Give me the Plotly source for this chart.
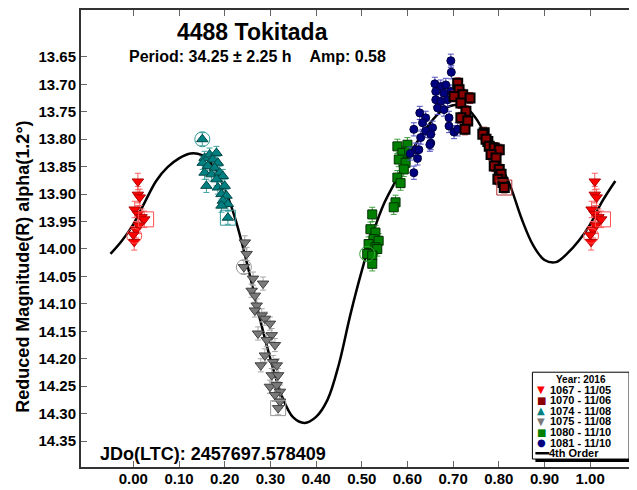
import plotly.graph_objects as go

# ---------------- data ----------------
ph_1067 = [0.010, 0.010, 0.014, 0.003, 0.010, 0.018, 0.024, 0.012, 0.006, 0.000, 0.002]
mag_1067 = [13.877, 13.901, 13.906, 13.928, 13.936, 13.942, 13.946, 13.957, 13.965, 13.974, 13.987]

ph_1070 = [0.710, 0.713, 0.721, 0.702, 0.737, 0.717, 0.728, 0.717, 0.732, 0.726, 0.768, 0.765, 0.776,
           0.772, 0.787, 0.779, 0.790, 0.801, 0.783, 0.794, 0.790, 0.801, 0.805, 0.798, 0.809, 0.812]
mag_1070 = [13.698, 13.710, 13.719, 13.722, 13.725, 13.734, 13.749, 13.761, 13.767, 13.782, 13.788, 13.791,
            13.804, 13.800, 13.816, 13.813, 13.816, 13.819, 13.828, 13.834, 13.849, 13.855, 13.864, 13.873,
            13.879, 13.888]

ph_1074 = [0.151, 0.156, 0.167, 0.182, 0.174, 0.152, 0.163, 0.185, 0.178, 0.156, 0.171, 0.189, 0.196,
           0.182, 0.160, 0.185, 0.200, 0.193, 0.204, 0.196, 0.207, 0.193, 0.207]
mag_1074 = [13.800, 13.834, 13.828, 13.825, 13.837, 13.843, 13.849, 13.843, 13.852, 13.861, 13.864, 13.861,
            13.867, 13.873, 13.885, 13.888, 13.885, 13.900, 13.903, 13.912, 13.918, 13.921, 13.943]

ph_1075 = [0.244, 0.248, 0.242, 0.262, 0.284, 0.259, 0.266, 0.270, 0.266, 0.281, 0.288, 0.299, 0.273, 0.303,
           0.292, 0.310, 0.288, 0.306, 0.314, 0.279, 0.303, 0.317, 0.299, 0.314, 0.321, 0.310, 0.321, 0.317]
mag_1075 = [13.988, 14.009, 14.033, 14.054, 14.063, 14.076, 14.085, 14.103, 14.112, 14.121, 14.127, 14.136,
            14.154, 14.157, 14.166, 14.175, 14.194, 14.206, 14.212, 14.212, 14.230, 14.230, 14.251, 14.248,
            14.260, 14.266, 14.278, 14.290]

ph_1080 = [0.578, 0.600, 0.589, 0.581, 0.596, 0.592, 0.578, 0.574, 0.570, 0.523, 0.519, 0.530, 0.526, 0.537,
           0.515, 0.530, 0.534, 0.512, 0.523, 0.523, 0.585, 0.604]
mag_1080 = [13.813, 13.810, 13.825, 13.837, 13.843, 13.855, 13.870, 13.915, 13.924, 13.937, 13.964, 13.970,
            13.982, 13.985, 13.991, 13.997, 14.000, 14.009, 14.012, 14.027, 13.880, 13.822]

ph_1081 = [0.695, 0.696, 0.660, 0.673, 0.684, 0.662, 0.680, 0.695, 0.662, 0.673, 0.688, 0.666, 0.680, 0.691,
           0.627, 0.640, 0.633, 0.655, 0.614, 0.640, 0.691, 0.702, 0.629, 0.651, 0.618, 0.651, 0.614, 0.625,
           0.649, 0.710, 0.606, 0.622]
mag_1081 = [13.657, 13.678, 13.699, 13.704, 13.701, 13.713, 13.716, 13.713, 13.728, 13.731, 13.728, 13.743,
            13.746, 13.761, 13.752, 13.761, 13.770, 13.779, 13.782, 13.785, 13.776, 13.787, 13.797, 13.807,
            13.819, 13.791, 13.861, 13.819, 13.810, 13.782, 13.826, 13.835]

# 4th order Fourier fit
curve_ph = [-0.050, -0.025, 0.000, 0.025, 0.050, 0.075, 0.100, 0.125, 0.150, 0.175, 0.200, 0.225, 0.250,
            0.275, 0.300, 0.325, 0.350, 0.375, 0.400, 0.425, 0.450, 0.475, 0.500, 0.525, 0.550, 0.575,
            0.600, 0.625, 0.650, 0.675, 0.700, 0.725, 0.750, 0.775, 0.800, 0.825, 0.850, 0.875, 0.900,
            0.925, 0.950, 0.975, 1.000, 1.025, 1.055]
curve_mag = [14.009, 13.985, 13.955, 13.915, 13.876, 13.851, 13.835, 13.826, 13.829, 13.848, 13.890, 13.950,
             14.030, 14.120, 14.200, 14.268, 14.307, 14.317, 14.306, 14.275, 14.210, 14.120, 14.040, 13.970,
             13.915, 13.875, 13.835, 13.800, 13.770, 13.748, 13.738, 13.740, 13.762, 13.800, 13.840, 13.885,
             13.945, 13.993, 14.020, 14.024, 14.008, 13.985, 13.955, 13.915, 13.876]

# session start / end flags (open circle / open square)
flag_circle_ph = [0.002, 1.002, 0.151, 0.242, 0.512]
flag_circle_mag = [13.976, 13.976, 13.800, 14.033, 14.009]
flag_circle_col = ["#ff5050", "#ff5050", "#339999", "#999999", "#33aa33"]
flag_square_ph = [0.028, 1.028, 0.207, 0.317, 0.812]
flag_square_mag = [13.946, 13.946, 13.943, 14.290, 13.888]
flag_square_col = ["#ff5050", "#ff5050", "#339999", "#999999", "#b03030"]

y_ticks = [13.65, 13.70, 13.75, 13.80, 13.85, 13.90, 13.95, 14.00, 14.05, 14.10, 14.15, 14.20, 14.25,
           14.30, 14.35]
x_ticks = [0.0, 0.1, 0.2, 0.3, 0.4, 0.5, 0.6, 0.7, 0.8, 0.9, 1.0]

legend_labels = ["1067 - 11/05", "1070 - 11/06", "1074 - 11/08", "1075 - 11/08", "1080 - 11/10",
                 "1081 - 11/10"]
legend_glyphs = ["▼", "■", "▲", "▼", "■", "●"]
legend_colors = ["#ff0000", "#8b0000", "#008080", "#7a7a7a", "#008000", "#000080"]

FONT = "Liberation Sans, Arial, sans-serif"

# ---------------- layout geometry (pixels) ----------------
W, H = 637, 490
ML, MR, MT, MB = 73, 0, 1, 31
PW, PH = W - ML - MR, H - MT - MB


def px_x(px):
    return (px - ML) / PW


def px_y(py):
    return (H - MB - py) / PH


fig = go.Figure()

fig.add_trace(go.Scatter(x=curve_ph, y=curve_mag, mode="lines", name="4th Order", showlegend=False,
                         line=dict(color="black", width=2.5, shape="spline", smoothing=1.0)))

sessions = [
    (ph_1067 + [p + 1 for p in ph_1067], mag_1067 + mag_1067, 0.015,
     "triangle-down", "#ff0000", "#b00000", 1, "#ff6060", 10),
    (ph_1074, mag_1074, 0.012, "triangle-up", "#008080", "#004848", 1, "#40a0a0", 10),
    (ph_1075, mag_1075, 0.012, "triangle-down", "#7a7a7a", "#404040", 1, "#a8a8a8", 10),
    (ph_1080, mag_1080, 0.013, "square", "#008000", "#003000", 1, "#40a040", 9),
    (ph_1081, mag_1081, 0.012, "circle", "#000080", "#000040", 1, "#5050c0", 8),
    (ph_1070, mag_1070, 0.010, "square", "#8b0000", "#000000", 2, "#b03030", 9),
]
for xs, ys, err, sym, fill, edge, ew, ecol, size in sessions:
    fig.add_trace(go.Scatter(
        x=xs, y=ys, mode="markers", showlegend=False,
        marker=dict(symbol=sym, color=fill, size=size, line=dict(color=edge, width=ew)),
        error_y=dict(type="data", array=[err] * len(ys), color=ecol, thickness=1, width=3),
    ))

fig.add_trace(go.Scatter(x=flag_circle_ph, y=flag_circle_mag, mode="markers", showlegend=False,
                         marker=dict(symbol="circle-open", size=15, color=flag_circle_col,
                                     line=dict(width=1))))
fig.add_trace(go.Scatter(x=flag_square_ph, y=flag_square_mag, mode="markers", showlegend=False,
                         marker=dict(symbol="square-open", size=15, color=flag_square_col,
                                     line=dict(width=1))))

axis_common = dict(showline=True, linecolor="#333333", linewidth=2, mirror="ticks",
                   ticks="inside", ticklen=6, tickcolor="#666666", tickwidth=1,
                   showgrid=False, zeroline=False,
                   tickfont=dict(family=FONT, size=15, color="black", weight="bold"))

fig.update_xaxes(range=[-0.1145, 1.1156], tickvals=x_ticks, tickformat=".2f",
                 ticklabelstandoff=-3, **axis_common)
fig.update_yaxes(range=[14.3973, 13.5645], tickvals=y_ticks, tickformat=".2f", **axis_common)

# axis title and titles
fig.add_annotation(text="Reduced Magnitude(R) alpha(1.2°)", x=px_x(15), y=px_y(258),
                   xref="paper", yref="paper", xanchor="center", yanchor="middle",
                   textangle=-90, showarrow=False,
                   font=dict(family=FONT, size=18, color="black", weight="bold"))
fig.add_annotation(text="4488 Tokitada", x=px_x(245), y=px_y(23), xref="paper", yref="paper",
                   xanchor="center", yanchor="middle", showarrow=False,
                   font=dict(family=FONT, size=23, color="black", weight="bold"))
fig.add_annotation(text="Period: 34.25 ± 2.25 h&nbsp;&nbsp;&nbsp;&nbsp;Amp: 0.58",
                   x=px_x(250), y=px_y(48), xref="paper", yref="paper",
                   xanchor="center", yanchor="middle", showarrow=False,
                   font=dict(family=FONT, size=16, color="black", weight="bold"))
fig.add_annotation(text="JDo(LTC): 2457697.578409", x=px_x(90), y=px_y(446), xref="paper", yref="paper",
                   xanchor="left", yanchor="middle", showarrow=False,
                   font=dict(family=FONT, size=18, color="black", weight="bold"))

# ---------------- legend box (drawn by hand) ----------------
LG_L, LG_R, LG_T, LG_B = 526, 623, 364, 451
ROW = 10.6
shapes = [
    dict(type="rect", xref="paper", yref="paper", x0=px_x(LG_L + 3), x1=px_x(LG_R + 3),
         y0=px_y(LG_B + 3), y1=px_y(LG_T + 3), fillcolor="black", line=dict(width=0)),
    dict(type="rect", xref="paper", yref="paper", x0=px_x(LG_L), x1=px_x(LG_R),
         y0=px_y(LG_B), y1=px_y(LG_T), fillcolor="white", line=dict(color="black", width=1)),
]
row0 = LG_T + 7
fig.add_annotation(text="Year: 2016", x=px_x((LG_L + LG_R) / 2), y=px_y(row0), xref="paper", yref="paper",
                   xanchor="center", yanchor="middle", showarrow=False,
                   font=dict(family=FONT, size=10, color="black", weight="bold"))
for i, (lab, gl, col) in enumerate(zip(legend_labels, legend_glyphs, legend_colors)):
    yy = px_y(row0 + ROW * (i + 1))
    fig.add_annotation(text=gl, x=px_x(535), y=yy, xref="paper", yref="paper",
                       xanchor="center", yanchor="middle", showarrow=False,
                       font=dict(family="DejaVu Sans", size=10, color=col))
    fig.add_annotation(text=lab, x=px_x(542), y=yy, xref="paper", yref="paper",
                       xanchor="left", yanchor="middle", showarrow=False,
                       font=dict(family=FONT, size=11, color="black", weight="bold"))
y_last = px_y(row0 + ROW * 7)
shapes.append(dict(type="line", xref="paper", yref="paper", x0=px_x(529), x1=px_x(543),
                   y0=y_last, y1=y_last, line=dict(color="black", width=2.5)))
fig.add_annotation(text="4th Order", x=px_x(541), y=y_last, xref="paper", yref="paper",
                   xanchor="left", yanchor="middle", showarrow=False,
                   font=dict(family=FONT, size=11, color="black", weight="bold"))

fig.update_layout(
    width=W, height=H,
    margin=dict(l=ML, r=MR, t=MT, b=MB),
    paper_bgcolor="white", plot_bgcolor="white",
    font=dict(family=FONT, color="black"),
    showlegend=False,
    shapes=shapes,
)

fig.write_html("out.html")
